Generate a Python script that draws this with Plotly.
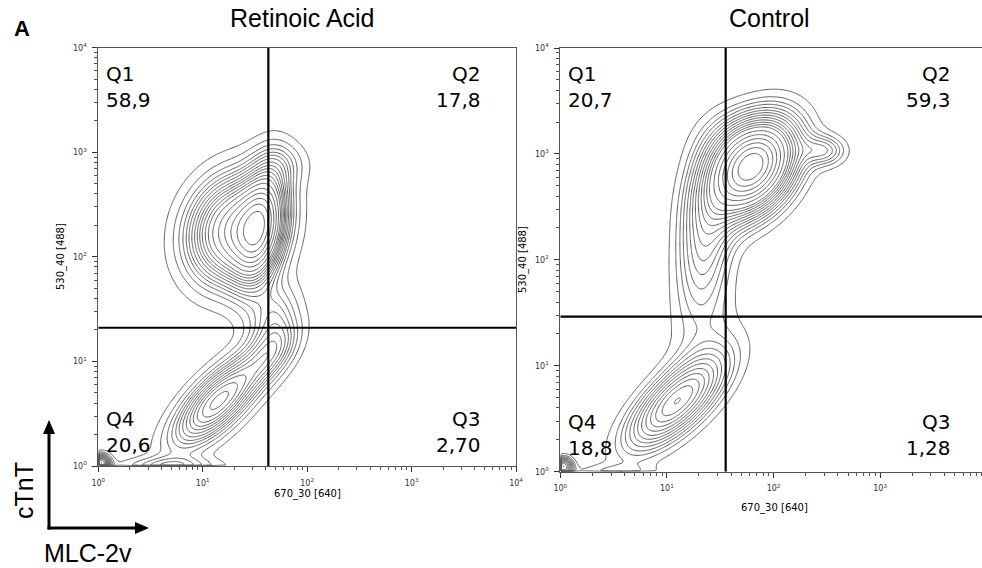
import numpy as np
import plotly.graph_objects as go

# ---- sample populations, in decades (log10 of channel intensity) ----
# Retinoic acid: centre x, centre y, sd x, sd y, correlation, weight
ra_cx = [1.30, 1.56, 1.78, 1.68, 1.15, 1.68, 0.03, 0.70]
ra_cy = [2.26, 2.30, 2.90, 1.45, 0.62, 1.10, 0.03, 0.00]
ra_sx = [0.30, 0.16, 0.18, 0.17, 0.31, 0.18, 0.06, 0.35]
ra_sy = [0.35, 0.39, 0.15, 0.20, 0.31, 0.20, 0.06, 0.06]
ra_rho = [0.15, 0.35, 0.00, 0.30, 0.72, 0.50, 0.00, 0.00]
ra_w = [0.42, 0.18, 0.015, 0.035, 0.20, 0.04, 0.01, 0.02]

# Control
ct_cx = [1.80, 1.62, 1.35, 2.48, 1.08, 1.35, 0.03, 0.50]
ct_cy = [2.87, 3.07, 2.18, 3.03, 0.65, 1.30, 0.05, 0.00]
ct_sx = [0.27, 0.25, 0.18, 0.14, 0.31, 0.26, 0.06, 0.30]
ct_sy = [0.30, 0.25, 0.45, 0.10, 0.30, 0.40, 0.06, 0.05]
ct_rho = [0.35, 0.00, 0.20, 0.00, 0.70, 0.20, 0.00, 0.00]
ct_w = [0.44, 0.04, 0.11, 0.015, 0.18, 0.04, 0.008, 0.006]

# quadrant gates (channel units) and quadrant frequencies (%)
ra_gate = (42.5, 21.0)
ct_gate = (35.6, 29.1)
ra_quads = {"Q1": "58,9", "Q2": "17,8", "Q3": "2,70", "Q4": "20,6"}
ct_quads = {"Q1": "20,7", "Q2": "59,3", "Q3": "1,28", "Q4": "18,8"}

decades = [0, 1, 2, 3, 4]
tick_vals = [10 ** d for d in decades]
tick_text = [f"10<sup>{d}</sup>" for d in decades]

W, H = 982, 568
GRID = np.linspace(0.0, 4.0, 401)


def density(cx, cy, sx, sy, rho, w):
    X, Y = np.meshgrid(GRID, GRID)
    D = np.zeros_like(X)
    for a, b, s, t, r, k in zip(cx, cy, sx, sy, rho, w):
        dx = (X - a) / s
        dy = (Y - b) / t
        q = (dx * dx - 2 * r * dx * dy + dy * dy) / (1 - r * r)
        D += k / (2 * np.pi * s * t * np.sqrt(1 - r * r)) * np.exp(-q / 2)
    # events beyond the axis limits pile up at the edge
    D[0, :] = 0
    D[:, 0] = 0
    return D


def equal_probability(D):
    flat = D.ravel()
    order = np.argsort(-flat)
    cum = np.cumsum(flat[order])
    cum /= cum[-1]
    z = np.empty_like(flat)
    z[order] = cum
    return z.reshape(D.shape)


def contour_trace(D, xa, ya):
    return go.Contour(
        x=10 ** GRID, y=10 ** GRID, z=equal_probability(D),
        xaxis=xa, yaxis=ya,
        contours=dict(coloring="lines", start=0.05, end=0.95, size=0.05),
        colorscale=[[0, "#5e5e5e"], [1, "#5e5e5e"]],
        line=dict(width=1), showscale=False, hoverinfo="skip",
    )


def gate_traces(gate, xa, ya):
    gx, gy = gate
    style = dict(mode="lines", line=dict(color="black", width=2.2),
                 xaxis=xa, yaxis=ya, hoverinfo="skip", showlegend=False)
    return [go.Scatter(x=[gx, gx], y=[1, 1e4], **style),
            go.Scatter(x=[1, 1e4], y=[gy, gy], **style)]


fig = go.Figure()
fig.add_trace(contour_trace(density(ra_cx, ra_cy, ra_sx, ra_sy, ra_rho, ra_w), "x", "y"))
fig.add_trace(contour_trace(density(ct_cx, ct_cy, ct_sx, ct_sy, ct_rho, ct_w), "x2", "y2"))
for t in gate_traces(ra_gate, "x", "y") + gate_traces(ct_gate, "x2", "y2"):
    fig.add_trace(t)

tickfont = dict(family="DejaVu Sans", size=8, color="#333")
axis_common = dict(
    type="log", tickmode="array", tickvals=tick_vals, ticktext=tick_text,
    ticks="outside", ticklen=5, tickwidth=1.3, tickcolor="#333",
    minor=dict(ticks="outside", ticklen=3, dtick="D1", tickcolor="#555"),
    showline=True, linecolor="#555", linewidth=1, mirror=True,
    showgrid=False, zeroline=False, tickfont=tickfont, automargin=False,
    ticklabelstandoff=4,
)


def px_x(p):
    return p / W


def px_y(p):
    return (H - p) / H


fig.update_layout(
    xaxis=dict(axis_common, range=[0, 4], domain=[px_x(98.3), px_x(516)], anchor="y"),
    yaxis=dict(axis_common, range=[0, 4], domain=[px_y(466), px_y(47.7)], anchor="x"),
    xaxis2=dict(axis_common, range=[0, (W - 560.3) / 106.6], domain=[px_x(560.3), 1.0], anchor="y2"),
    yaxis2=dict(axis_common, range=[0, 4], domain=[px_y(471.7), px_y(48)], anchor="x2"),
)

ann = []


def text(x, y, s, size, xanchor="center", yanchor="middle", angle=0, family="Liberation Sans",
         align="left", bold=False):
    if bold:
        s = f"<b>{s}</b>"
    ann.append(dict(x=px_x(x), y=px_y(y), xref="paper", yref="paper", text=s, showarrow=False,
                    xanchor=xanchor, yanchor=yanchor, textangle=angle, align=align,
                    font=dict(family=family, size=size, color="black")))


text(12, 29, "A", 22, xanchor="left", bold=True)
text(302, 18, "Retinoic Acid", 25)
text(769, 18, "Control", 25)

qfont = "DejaVu Sans"
for quads, left, right, top_y, low_y in [
    (ra_quads, 104, 483, 60, 405),
    (ct_quads, 566, 953, 60, 408),
]:
    text(left, top_y, f"Q1<br>{quads['Q1']}", 20, "left", "top", family=qfont)
    text(right, top_y, f"Q2<br>{quads['Q2']}", 20, "right", "top", family=qfont, align="right")
    text(left, low_y, f"Q4<br>{quads['Q4']}", 20, "left", "top", family=qfont)
    text(right, low_y, f"Q3<br>{quads['Q3']}", 20, "right", "top", family=qfont, align="right")

for xc, yc in [(307, 494), (774, 508)]:
    text(xc, yc, "670_30 [640]", 10, family="DejaVu Sans")
for xc, yc in [(61, 257), (523, 260)]:
    text(xc, yc, "530_40 [488]", 10, angle=-90, family="DejaVu Sans")

text(24, 491, "cTnT", 25, angle=-90)
text(88, 553, "MLC-2v", 25)

# marker-axis arrows
ox, oy = 49, 528
shapes = [
    dict(type="line", xref="paper", yref="paper", x0=px_x(ox), y0=px_y(oy + 1.5),
         x1=px_x(ox), y1=px_y(432), line=dict(color="black", width=3)),
    dict(type="line", xref="paper", yref="paper", x0=px_x(ox - 1.5), y0=px_y(oy),
         x1=px_x(137), y1=px_y(oy), line=dict(color="black", width=3)),
    dict(type="path", xref="paper", yref="paper",
         path=f"M {px_x(ox - 6)} {px_y(434)} L {px_x(ox)} {px_y(420)} L {px_x(ox + 6)} {px_y(434)} Z",
         fillcolor="black", line=dict(width=0)),
    dict(type="path", xref="paper", yref="paper",
         path=f"M {px_x(135)} {px_y(oy - 6)} L {px_x(149)} {px_y(oy)} L {px_x(135)} {px_y(oy + 6)} Z",
         fillcolor="black", line=dict(width=0)),
]

fig.update_layout(
    width=W, height=H, autosize=False,
    margin=dict(l=0, r=0, t=0, b=0, autoexpand=False),
    paper_bgcolor="white", plot_bgcolor="white",
    showlegend=False, annotations=ann, shapes=shapes,
)

fig.write_html("out.html")
